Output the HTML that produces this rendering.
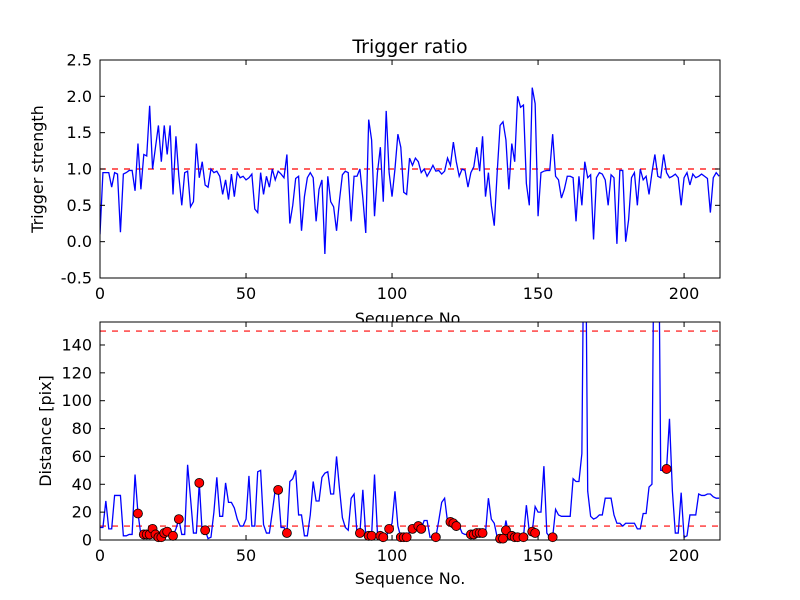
<!DOCTYPE html>
<html><head><meta charset="utf-8"><style>
body{margin:0;background:#fff}
svg{display:block}
text{font-family:"DejaVu Sans","Liberation Sans",sans-serif;font-size:16px;fill:#000}
</style></head><body>
<svg id="fig" width="800" height="600">
<rect width="800" height="600" fill="#fff"/>
<defs>
<clipPath id="c1"><rect x="100" y="60" width="620" height="218"/></clipPath>
<clipPath id="c2"><rect x="100" y="322" width="620" height="218"/></clipPath>
</defs>
<g id="top"></g>
<g id="bot"></g>
</svg>
<script>
const ratio=[0.1,0.95,0.95,0.95,0.75,0.95,0.93,0.13,0.93,0.95,0.98,0.98,0.7,1.35,0.72,1.2,1.18,1.87,1.0,1.3,1.6,1.1,1.6,1.2,1.6,0.65,1.45,0.9,0.5,0.95,0.97,0.48,0.55,1.35,0.88,1.1,0.78,0.75,1.0,0.95,0.97,0.9,0.65,0.85,0.58,0.93,0.62,0.95,0.88,0.9,0.85,0.88,0.93,0.45,0.4,0.95,0.65,0.9,0.75,1.0,0.85,0.97,0.93,0.88,1.2,0.25,0.5,0.87,0.9,0.15,0.62,0.88,0.95,0.88,0.28,0.72,0.85,-0.17,0.9,0.55,0.48,0.15,0.57,0.92,0.97,0.95,0.28,0.9,0.9,1.0,0.6,0.12,1.68,1.4,0.35,0.95,1.3,0.55,1.8,0.95,0.62,1.0,1.48,1.3,0.68,0.65,1.15,1.05,1.15,1.1,0.95,1.0,0.9,0.97,1.05,0.97,0.98,0.93,0.97,1.15,1.05,1.37,1.1,0.9,1.0,0.98,0.75,0.95,1.03,1.3,0.97,1.45,0.62,0.95,0.5,0.22,0.95,1.6,1.65,1.4,0.72,1.35,1.1,2.0,1.85,1.88,0.8,0.5,2.12,1.9,0.35,0.95,0.97,0.98,0.98,1.48,0.9,0.85,0.6,0.72,0.9,0.9,0.88,0.28,0.9,0.5,1.1,0.88,0.92,0.03,0.88,0.95,0.93,0.85,0.5,0.92,0.88,-0.03,0.98,0.98,0.0,0.3,0.88,0.95,0.5,1.0,0.85,0.9,0.65,0.95,1.2,0.9,0.88,1.2,0.95,0.88,0.9,0.93,0.88,0.5,0.88,0.95,0.78,0.93,0.88,0.9,0.93,0.9,0.87,0.4,0.88,0.95,0.9];
const dist=[9,9,28,8,8,32,32,32,3,3,4,4,47,19,4,4,4,4,8,4,2,2,5,6,4,3,8,15,4,4,54,30,5,5,41,5,7,1,2,20,45,17,17,41,27,27,23,15,10,10,15,46,10,10,49,50,11,5,5,20,36,36,9,9,5,42,44,50,18,18,3,3,18,42,28,28,45,48,49,33,33,60,37,16,9,7,30,33,5,5,36,3,3,3,47,5,3,2,2,8,12,35,10,2,2,2,6,8,12,10,8,14,14,2,2,2,14,27,30,13,13,12,10,10,5,4,4,4,4,5,5,5,5,30,15,12,2,1,1,14,3,3,2,2,2,2,25,6,6,24,20,20,53,5,2,2,22,18,17,17,17,17,44,42,42,62,300,35,17,15,16,18,18,30,30,30,18,12,12,10,12,12,12,12,8,8,19,19,38,40,300,300,50,50,51,87,35,5,5,34,2,3,18,18,18,33,32,32,33,33,31,30,30];
const markerSeq=[13,15,16,17,18,19,20,21,22,23,25,27,34,36,61,64,89,92,93,96,97,99,103,104,105,107,109,110,115,120,121,122,127,128,129,130,131,137,138,139,141,142,143,145,148,149,155,194];
const markerVal=[19,4,4,4,8,4,2,2,5,6,3,15,41,7,36,5,5,3,3,3,2,8,2,2,2,8,10,8,2,13,12,10,4,4,5,5,5,1,1,7,3,2,2,2,6,5,2,51];
const topTicksY=[-0.5,0.0,0.5,1.0,1.5,2.0,2.5];
const botTicksY=[0,20,40,60,80,100,120,140];
const ticksX=[0,50,100,150,200];
const refTop=[1.0];
const refBot=[10,150];

const NS="http://www.w3.org/2000/svg";
function mk(p,t,a,txt){const e=document.createElementNS(NS,t);for(const k in a)e.setAttribute(k,a[k]);if(txt!==undefined)e.textContent=txt;p.appendChild(e);return e;}
const X0=100,X1=720,XMAX=212.3;
const sx=v=>X0+(X1-X0)*v/XMAX;

function panel(g,y0,y1,ymin,ymax,ticksY,fmt,data,refs,clip,ylabel,pfx){
  const sy=v=>y1-(y1-y0)*(v-ymin)/(ymax-ymin);
  refs.forEach(r=>{
    const l=mk(g,'line',{x1:X0,x2:X1,y1:sy(r),y2:sy(r),stroke:'#f00','stroke-width':1.2,'stroke-dasharray':'6,6'});
    
    
  });
  const d=data.map((v,i)=>(i?'L':'M')+sx(i).toFixed(2)+','+sy(v).toFixed(2)).join('');
  const p=mk(g,'path',{d:d,fill:'none',stroke:'#00f','stroke-width':1.3,'clip-path':'url(#'+clip+')'});
  
  
  mk(g,'rect',{x:X0,y:y0,width:X1-X0,height:y1-y0,fill:'none',stroke:'#000','stroke-width':1});
  ticksY.forEach(t=>{
    const y=sy(t);
    mk(g,'line',{x1:X0,x2:X0+5,y1:y,y2:y,stroke:'#000'});
    mk(g,'line',{x1:X1,x2:X1-5,y1:y,y2:y,stroke:'#000'});
    const tx=mk(g,'text',{x:X0-8,y:y+5.5,'text-anchor':'end'},fmt(t));
    
    
  });
  ticksX.forEach(t=>{
    const x=sx(t);
    mk(g,'line',{x1:x,x2:x,y1:y1,y2:y1-5,stroke:'#000'});
    mk(g,'line',{x1:x,x2:x,y1:y0,y2:y0+5,stroke:'#000'});
    const tx=mk(g,'text',{x:x,y:y1+21,'text-anchor':'middle'},String(t));
    
    
  });
  const yl=mk(g,'text',{x:0,y:0,'text-anchor':'middle',transform:'translate('+(pfx==='top'?43:51)+','+((y0+y1)/2)+') rotate(-90)'},ylabel);
  
  
  return sy;
}
const gt=document.getElementById('top'),gb=document.getElementById('bot');
panel(gt,60,278,-0.5,2.5,topTicksY,t=>t.toFixed(1),ratio,refTop,'c1','Trigger strength','top');
const xl1=mk(gt,'text',{x:410,y:324,'text-anchor':'middle'},'Sequence No.');


const ttl=mk(gt,'text',{x:410,y:53,'text-anchor':'middle',style:'font-size:19px'},'Trigger ratio');


mk(gb,'rect',{x:100,y:322,width:620,height:218,fill:'#fff'});
const syb=panel(gb,322,540,0,156.5,botTicksY,t=>String(t),dist,refBot,'c2','Distance [pix]','bottom');
markerSeq.forEach((s,i)=>{
  const c=mk(gb,'circle',{cx:sx(s),cy:syb(markerVal[i]),r:4.5,fill:'#f00',stroke:'#000','stroke-width':0.8});
  
  
});
const xl2=mk(gb,'text',{x:410,y:584,'text-anchor':'middle'},'Sequence No.');


</script>
</body></html>
